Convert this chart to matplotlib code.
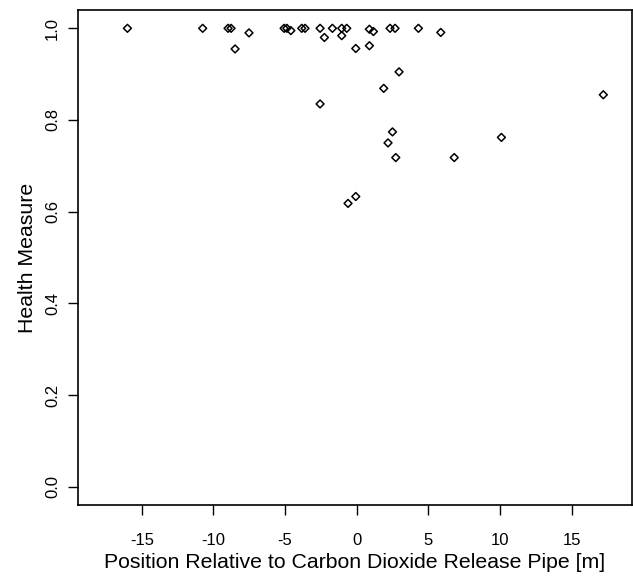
import matplotlib
matplotlib.use("Agg")
import matplotlib.pyplot as plt
import numpy as np

# positions relative to the pipe [m] and health measure
position = [-16.0, -10.75, -8.98, -8.77, -7.52, -8.49,
            -5.07, -4.88, -4.6, -3.84, -3.61, -2.56, -2.26, -1.70,
            -1.05, -0.70, -1.05, 0.88, 1.16, -0.07, 0.88,
            2.32, 2.67, 4.3, 5.86,
            2.95, 1.88, -2.56, 2.49, 2.18, 2.72, -0.07, -0.61,
            10.09, 6.8, 17.2]
health = [1.0, 1.0, 1.0, 1.0, 0.99, 0.955,
          1.0, 1.0, 0.995, 1.0, 1.0, 1.0, 0.98, 1.0,
          1.0, 1.0, 0.984, 0.998, 0.993, 0.956, 0.962,
          1.0, 1.0, 1.0, 0.991,
          0.905, 0.869, 0.835, 0.774, 0.750, 0.718, 0.633, 0.618,
          0.762, 0.718, 0.855]

xticks = [-15, -10, -5, 0, 5, 10, 15]
yticks = [0.0, 0.2, 0.4, 0.6, 0.8, 1.0]

plt.rcParams['font.family'] = ['Liberation Sans', 'DejaVu Sans']

fig = plt.figure(figsize=(6.33, 5.77), dpi=100)
ax = fig.add_axes([0.1232, 0.1248, 0.8752, 0.8579])

ax.scatter(position, health, marker='D', s=16, facecolors='none',
           edgecolors='black', linewidths=1.1)

ax.set_xlim(-19.45, 19.2)
ax.set_ylim(-0.04, 1.04)
ax.set_xticks(xticks)
ax.set_xticklabels([str(t) for t in xticks])
ax.set_yticks(yticks)
ax.set_yticklabels(["%.1f" % t for t in yticks], rotation=90, va='center')

ax.tick_params(direction='out', length=7, width=1, labelsize=12, colors='black')
ax.tick_params(axis='x', pad=13)
ax.tick_params(axis='y', pad=6)
for s in ax.spines.values():
    s.set_linewidth(1.2)

ax.set_xlabel("Position Relative to Carbon Dioxide Release Pipe [m]", fontsize=15.3, labelpad=4)
ax.set_ylabel("Health Measure", fontsize=15.3, labelpad=6)

fig.savefig("out.png", dpi=100)
